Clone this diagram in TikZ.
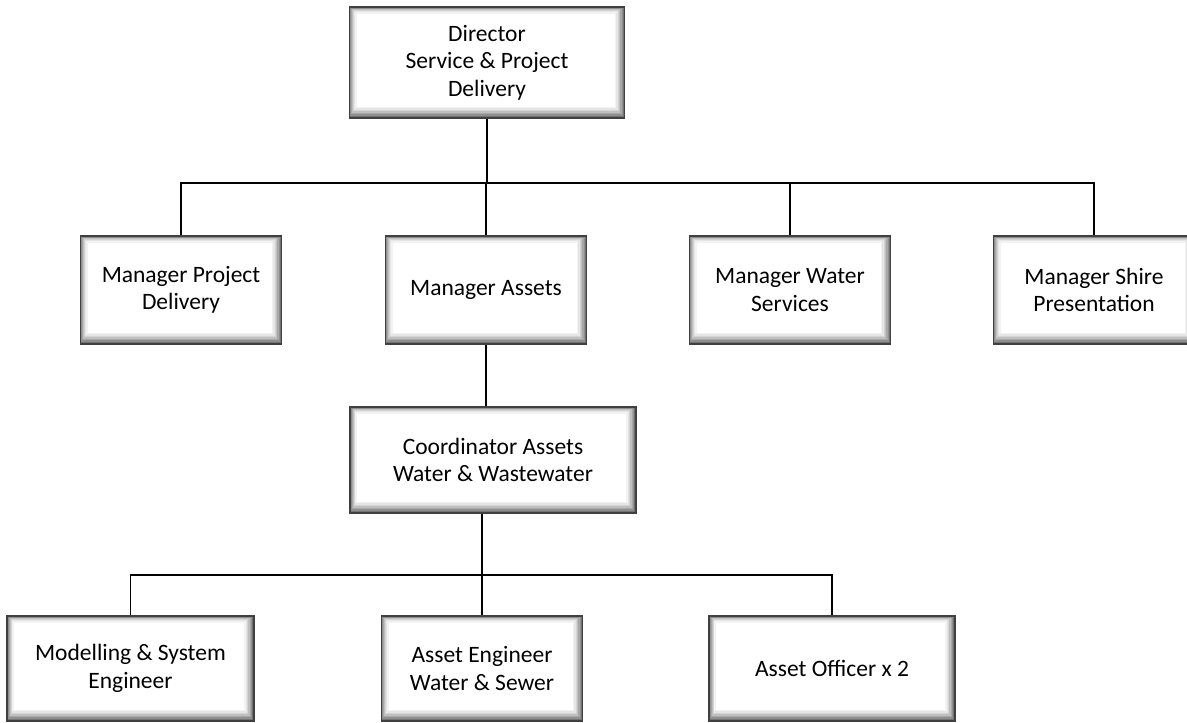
\documentclass[tikz,border=0pt]{standalone}
\usepackage{fontspec}
\setmainfont{Carlito}
\tikzset{
  orgbox/.style={draw=black!75, line width=1.4pt, fill=white, align=center,
    inner sep=0pt, font=\fontsize{23.5}{27.5}\selectfont,
    path picture={
      \foreach \i/\c in {1/55,2/44,3/34,4/25,5/17,6/10,7/5}
        \draw[black!\c, line width=1.8pt]
          ([xshift={\i*0.9pt}, yshift={\i*1.5pt}]path picture bounding box.south west) rectangle
          ([xshift={-\i*1.3pt}, yshift={-\i*0.8pt}]path picture bounding box.north east);
    }},
  conn/.style={line width=1.5pt, black},
}
\begin{document}
\begin{tikzpicture}[x=1pt,y=-1pt]
    \useasboundingbox (0,0) rectangle (1187,723);
    % top
    \node[orgbox, minimum width=275pt, minimum height=111pt] (dir) at (487,62.5) {Director\\Service \& Project\\Delivery};
    % managers
    \node[orgbox, minimum width=201pt, minimum height=108pt] (pd) at (181,290) {Manager Project\\Delivery};
    \node[orgbox, minimum width=201pt, minimum height=108pt] (assets) at (486,290) {Manager Assets};
    \node[orgbox, minimum width=201pt, minimum height=108pt] (water) at (790,290) {Manager Water\\Services};
    \node[orgbox, minimum width=201pt, minimum height=108pt] (shire) at (1094,290) {Manager Shire\\Presentation};
    % coordinator
    \node[orgbox, minimum width=286pt, minimum height=106pt] (coord) at (493,460) {Coordinator Assets\\Water \& Wastewater};
    % staff
    \node[orgbox, minimum width=247pt, minimum height=105pt] (model) at (130.5,668.5) {Modelling \& System\\Engineer};
    \node[orgbox, minimum width=201pt, minimum height=105pt] (ase) at (482,668.5) {Asset Engineer\\Water \& Sewer};
    \node[orgbox, minimum width=246pt, minimum height=105pt] (officer) at (832,668.5) {Asset Officer x 2};
    % connectors
    \coordinate (busA) at (0,183);
    \coordinate (busB) at (0,575);
    \draw[conn] (dir.south) -- (dir.south |- busA);
    \draw[conn] (pd.north) -- (pd.north |- busA) -- (shire.north |- busA) -- (shire.north);
    \foreach \n in {assets,water} \draw[conn] (\n.north |- busA) -- (\n.north);
    \draw[conn] (assets.south) -- (assets.south |- coord.north);
    \draw[conn] (coord.south -| ase.north) -- (ase.north);
    \draw[conn] (model.north) -- (model.north |- busB) -- (officer.north |- busB) -- (officer.north);
\end{tikzpicture}
\end{document}
